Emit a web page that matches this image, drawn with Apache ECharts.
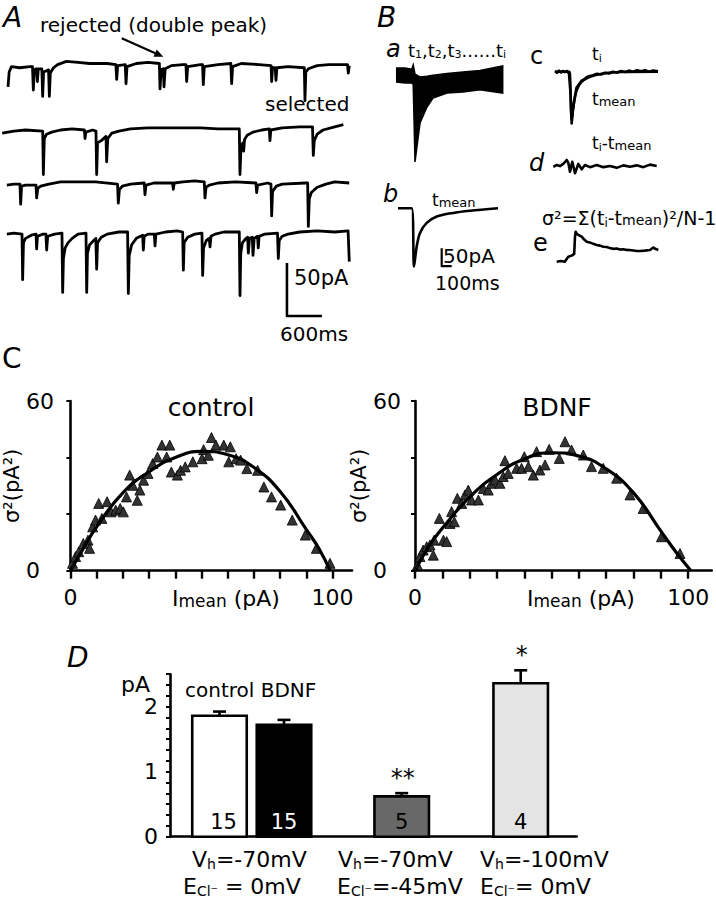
<!DOCTYPE html>
<html>
<head>
<meta charset="utf-8">
<script src="https://cdn.jsdelivr.net/npm/echarts@6/dist/echarts.min.js"></script>
<style>
html,body{margin:0;padding:0;background:#fff;}
#chart{width:716px;height:899px;}
</style>
</head>
<body>
<div id="chart"></div>
<script>
// ---------------- DATA ----------------
// Panel A: four continuous recordings, [time (ms), current (pA)]
const traceA1 = [[0,-22],[20,-8],[60,-3],[200,-4],[380,-3],[420,-3],[434,-25],[450,-6],[490,-5],[503,-17],[520,-5],[580,-5],[594,-31],[610,-8],[695,-6],[709,-31],[725,-9],[780,-4],[850,-1],[1000,2],[1200,1],[1400,0],[1700,0],[1850,-1],[1863,-15],[1880,-2],[2010,-1],[2023,-19],[2040,-3],[2200,0],[2400,1],[2595,0],[2606,-24],[2625,-6],[2662,-5],[2674,-22],[2695,-5],[2800,-2],[3000,-1],[3050,-1],[3063,-17],[3080,-3],[3300,-1],[3335,-1],[3348,-20],[3365,-3],[3600,-1],[3820,0],[3834,-19],[3850,-3],[4000,0],[4300,-1],[4510,-2],[4520,-17],[4535,-4],[4580,-4],[4594,-16],[4610,-4],[4800,-3],[5080,-4],[5091,-35],[5105,-8],[5150,-5],[5300,-2],[5500,-1],[5820,-1],[5834,-9],[5850,-2]];
const traceA2 = [[-100,-3],[100,-1],[300,0],[595,-1],[606,-42],[622,-8],[660,-4],[750,-2],[900,0],[1100,1],[1310,0],[1320,-8],[1335,-2],[1450,0],[1508,-1],[1520,-42],[1535,-12],[1600,-10],[1680,-6],[1691,-30],[1710,-8],[1780,-3],[1900,-1],[2100,1],[2400,2],[2700,2],[3000,2],[3300,2],[3600,1],[3965,1],[3977,-42],[3995,-15],[4030,-12],[4040,-20],[4055,-9],[4100,-5],[4200,-2],[4350,0],[4480,1],[4491,-10],[4505,0],[4700,2],[5000,3],[5220,3],[5234,-24],[5250,-10],[5300,-4],[5400,0],[5600,3],[5749,5]];
const traceA3 = [[-20,-2],[100,-1],[205,-1],[217,-20],[232,-3],[300,-2],[480,-2],[491,-14],[510,-5],[560,-3],[700,-1],[900,1],[1200,1],[1500,1],[1878,-1],[1891,-19],[1910,-6],[1960,-3],[2100,-1],[2335,0],[2348,-11],[2365,-2],[2500,0],[2820,0],[2834,-6],[2850,0],[3000,1],[3200,2],[3365,1],[3377,-14],[3395,-4],[3450,-2],[3600,0],[3900,1],[4250,0],[4263,-9],[4280,-2],[4450,0],[4508,-1],[4520,-31],[4535,-8],[4600,-3],[4700,-1],[5100,0],[5137,0],[5149,-41],[5165,-15],[5200,-9],[5300,-4],[5450,-1],[5600,1],[5850,0]];
const traceA4 = [[-20,-2],[100,-1],[240,-2],[251,-45],[265,-10],[300,-6],[400,-3],[480,-2],[491,-16],[505,-4],[600,-2],[650,-2],[663,-17],[680,-4],[800,-2],[925,-1],[937,-57],[950,-25],[980,-15],[1030,-10],[1100,-6],[1200,-2],[1337,-1],[1349,-57],[1362,-20],[1400,-12],[1505,-6],[1520,-35],[1535,-10],[1600,-5],[1700,-2],[1900,0],[2050,0],[2063,-58],[2078,-22],[2120,-12],[2200,-6],[2308,-3],[2320,-17],[2335,-4],[2400,-2],[2508,-2],[2520,-13],[2535,-2],[2700,0],[2900,1],[2994,0],[3006,-36],[3020,-10],[3080,-5],[3200,-2],[3325,-1],[3337,-41],[3352,-15],[3400,-8],[3450,-6],[3463,-14],[3480,-4],[3550,-2],[3700,0],[3965,0],[3977,-60],[3990,-20],[4020,-10],[4080,-6],[4108,-5],[4120,-20],[4140,-6],[4188,-5],[4200,-22],[4220,-6],[4278,-4],[4290,-15],[4305,-4],[4400,-2],[4620,-1],[4634,-25],[4650,-8],[4700,-4],[4800,-2],[5000,0],[5300,1],[5600,0],[5830,1],[5851,-28]];

// Panel B: single events, [time (ms), current (pA)]
const overlayUpper = [[0,11],[83,11],[150,8],[165,20],[183,-6],[233,-14],[303,-12],[363,-9],[503,-4],[663,0],[833,4],[1060,17]];
const overlayLower = [[0,-28],[83,-31],[150,-31],[165,-35],[183,-252],[233,-143],[303,-98],[363,-73],[503,-59],[663,-56],[833,-50],[1060,-59]];
const meanTrace = [[0,0],[137,0],[160,-163],[187,-107],[220,-69],[287,-41],[387,-23],[550,-13],[720,-7],[1000,0]];
const singleTrace = [[0,2],[20,-3],[40,3],[60,-2],[80,2],[100,-1],[120,2],[140,-6],[155,-60],[167,-145],[178,-110],[195,-75],[215,-45],[240,-35],[265,-25],[290,-22],[320,-15],[350,-12],[380,-10],[420,-6],[460,-8],[500,-3],[540,-5],[580,0],[620,-3],[660,2],[700,-1],[740,3],[780,0],[820,4],[860,1],[900,4],[940,0],[980,3],[1030,1]];
const meanTraceC = [[0,0],[140,0],[150,-10],[167,-135],[185,-95],[217,-52],[267,-28],[350,-14],[480,-5],[650,-1],[1030,0]];
const diffTrace = [[0,-5],[34,0],[67,-3],[100,3],[134,14],[150,6],[167,-19],[190,9],[217,-23],[250,3],[284,-12],[317,0],[367,-6],[434,0],[500,-6],[567,-3],[634,-8],[700,-1],[767,-5],[834,-1],[900,-6],[967,1],[1034,-3]];
const varTrace = [[0,0],[40,2],[80,0],[116,14],[150,17],[175,22],[183,70],[190,84],[200,78],[225,74],[250,70],[275,62],[300,56],[330,54],[366,50],[400,47],[433,45],[466,42],[500,41],[533,38],[566,36],[600,37],[633,34],[666,35],[700,33],[750,32],[800,30],[833,30],[880,31],[933,33],[966,40],[985,36],[1016,33]];

// Panel C: variance vs mean current
const controlPts = [[0.8,2.6],[2,5],[3.2,6.7],[4.9,9.6],[6.7,10.8],[7.3,7.9],[8.5,15.5],[9.6,17.9],[10.8,23.8],[12,18.5],[14,24.4],[15.5,20.8],[17.3,21.4],[19,22],[20.2,20.8],[21.4,26.1],[22.6,33.8],[23.8,30.2],[25.5,24.9],[26.5,28.5],[27.9,32],[29.6,34.4],[31.4,37.9],[33.2,40.2],[34.9,44.4],[36.7,40.2],[37.9,44.4],[38.5,34.9],[40.8,33.8],[42,35.5],[43.8,36.7],[46.7,38.5],[50.2,39.6],[50.8,42.8],[52.6,40.8],[53.8,47.1],[55.5,44.4],[58.5,44.4],[61,43.8],[60.4,38.5],[63.2,39.6],[64.9,39.1],[67.3,36.1],[71.4,35.5],[73.8,29.6],[76.7,26.1],[80.2,23.2],[84.6,17.9],[89.6,12.6],[93.8,7.9],[99,2.6]];
const controlFit = [[0,0],[5,8],[10,15.5],[20,27.5],[30,35],[40,40],[50,42.2],[60,41],[70,36.5],[80,28],[90,14.5],[95,7.5],[99,0]];
const bdnfPts = [[0.9,2],[1.8,5],[3,7.3],[4.3,8.5],[5.5,9.1],[6.7,5.5],[7,10.8],[8.9,18.5],[10.4,10.8],[11.6,10.3],[12.8,16.7],[13.4,20.9],[14.4,17.3],[15.5,25.6],[17.1,23.8],[18.3,26.8],[19.5,28.5],[20.7,25],[23.2,25],[25,29.1],[26.8,28.5],[28,30.9],[29.3,32.1],[31.1,30.9],[32.3,33.3],[34.1,34.4],[32.9,38.9],[37.2,36.2],[39,36.2],[40,40.3],[41.5,36.8],[43.3,33.8],[45.7,35.6],[47.6,37.4],[44.5,42.1],[49.1,42.9],[52.8,39.7],[54.9,45.6],[57.3,42.7],[61.6,40.9],[64.6,36.8],[68.9,36.2],[73.8,32.7],[78.7,26.8],[83.5,22],[90.2,12],[97,6.1]];
const bdnfFit = [[0,0],[5,8.5],[10,15],[20,26],[30,34],[40,39.5],[50,41.7],[60,40.5],[70,36],[80,27.5],[90,14],[96,6],[101,0]];

// Panel D: single-channel current
const conditions = ['control', 'BDNF', 'Vh -70 / ECl -45', 'Vh -100 / ECl 0'];
const meanPA = [1.86, 1.72, 0.62, 2.36];
const semPA = [0.065, 0.077, 0.05, 0.2];
const nCells = [15, 15, 5, 4];
const sigMarks = ['', '', '**', '*'];

// ---------------- LAYOUT / STYLE ----------------
const FONT = 'DejaVu Sans';
const barSlot = [12.17, 28.03, 56.97, 86.23];       // position along the D x-axis (0-100)
const barFill = ['#ffffff', '#000000', '#686868', '#e4e4e4'];
const nColor = ['#000', '#fff', '#000', '#000'];

const grids = [], xAxes = [], yAxes = [], series = [];
function addGrid(g, xa, ya) {
  grids.push(g);
  const i = grids.length - 1;
  xAxes.push(Object.assign({gridIndex: i}, xa));
  yAxes.push(Object.assign({gridIndex: i}, ya));
  return i;
}
const hid = (min, max) => ({type: 'value', min, max, show: false, scale: true});
function lineSeries(gi, data, width, extra) {
  return Object.assign({type: 'line', xAxisIndex: gi, yAxisIndex: gi, data, showSymbol: false, symbol: 'none',
    lineStyle: {color: '#000', width: width, join: 'round'}, silent: true, animation: false, z: 3}, extra || {});
}

// Panel A grids: 17.14 ms/px, 1.06 px/pA
const aBase = [63.5, 130, 183, 232];
const aTraces = [traceA1, traceA2, traceA3, traceA4];
const aGrid = [];
aBase.forEach((b, k) => {
  const gi = addGrid({left: 2, top: b - 25 * 1.06, width: 348, height: 115 * 1.06}, hid(-103, 5863), hid(-90, 25));
  aGrid.push(gi);
  series.push(lineSeries(gi, aTraces[k], 2.8));
});
// scale bar A (50 pA, 600 ms)
const scaleA = {pA: 50, ms: 600}, anchorA = [4782, -29.2];
series.push(lineSeries(aGrid[3], [[anchorA[0], anchorA[1]], [anchorA[0], anchorA[1] - scaleA.pA], [anchorA[0] + scaleA.ms, anchorA[1] - scaleA.pA]], 2.6));

// Panel B grids: 10 ms/px, 2.8 pA/px
const PX_MS = 10, PX_PA = 2.8;
function bGrid(left, baseY, tMax, vMin, vMax) {
  return addGrid({left, top: baseY - vMax / PX_PA, width: tMax / PX_MS, height: (vMax - vMin) / PX_PA}, hid(0, tMax), hid(vMin, vMax));
}
const gA = bGrid(396.7, 72, 1060, -260, 25);
series.push({type: 'custom', coordinateSystem: 'cartesian2d', xAxisIndex: gA, yAxisIndex: gA, data: [[0, 0]], silent: true, animation: false,
  renderItem: (p, api) => {
    const pts = overlayUpper.map(q => api.coord(q)).concat(overlayLower.slice().reverse().map(q => api.coord(q)));
    return {type: 'polygon', shape: {points: pts}, style: {fill: '#000', stroke: '#000', lineWidth: 1.5}};
  }});
const gB = bGrid(398, 208.3, 1000, -170, 10);
series.push(lineSeries(gB, meanTrace, 2.6, {smooth: 0.3}));
const scaleB = {pA: 50, ms: 100}, anchorB = [437, -112];
series.push(lineSeries(gB, [[anchorB[0], anchorB[1]], [anchorB[0], anchorB[1] - scaleB.pA], [anchorB[0] + scaleB.ms, anchorB[1] - scaleB.pA]], 2.2));
const gC = bGrid(555, 71.7, 1030, -150, 10);
series.push(lineSeries(gC, singleTrace, 2.6));
series.push(lineSeries(gC, meanTraceC, 2.6, {smooth: 0.3}));
const gD = bGrid(553.3, 165, 1034, -30, 20);
series.push(lineSeries(gD, diffTrace, 2.6));
const gE = bGrid(556.7, 261.7, 1016, -10, 95);
series.push(lineSeries(gE, varTrace, 2.6));

// Panel C grids
const labelEnds = (v) => (v === 0 || v === 100) ? String(v) : '';
function cAxes(left, width, xMax, labelMargin, nameGap) {
  return addGrid({left, top: 401, width, height: 169.7},
    {type: 'value', min: 0, max: xMax, interval: 10,
      axisLine: {lineStyle: {color: '#000', width: 2.6}},
      axisTick: {show: true, length: 8, lineStyle: {color: '#000', width: 2.4}},
      axisLabel: {formatter: labelEnds, color: '#000', fontSize: 22, fontFamily: FONT, margin: 16, showMaxLabel: false},
      splitLine: {show: false}},
    {type: 'value', min: 0, max: 60, interval: 20,
      axisLine: {show: true, lineStyle: {color: '#000', width: 2.6}},
      axisTick: {show: true, length: 4, lineStyle: {color: '#000', width: 2}},
      axisLabel: {formatter: v => (v === 0 || v === 60) ? String(v) : '', color: '#000', fontSize: 22, fontFamily: FONT, margin: labelMargin, align: 'left'},
      splitLine: {show: false},
      name: 'σ²(pA²)', nameLocation: 'middle', nameRotate: 90, nameGap,
      nameTextStyle: {color: '#000', fontSize: 21, fontFamily: FONT}});
}
const gCtl = cAxes(47.7, 304.3, 107.4, 44.5, 37);
const gBd = cAxes(415, 296.7, 108.6, 42, 30);
const triStyle = {color: '#333333', borderColor: '#000', borderWidth: 0.8, opacity: 1};
series.push({type: 'scatter', xAxisIndex: gCtl, yAxisIndex: gCtl, data: controlPts, symbol: 'triangle', symbolSize: 10, itemStyle: triStyle, silent: true, animation: false, z: 4});
series.push(lineSeries(gCtl, controlFit, 3.2, {smooth: true, z: 5}));
series.push({type: 'scatter', xAxisIndex: gBd, yAxisIndex: gBd, data: bdnfPts, symbol: 'triangle', symbolSize: 10, itemStyle: triStyle, silent: true, animation: false, z: 4});
series.push(lineSeries(gBd, bdnfFit, 3.2, {smooth: true, z: 5}));

// Panel D grid
const gBar = addGrid({left: 170, top: 674.2, width: 406.7, height: 162.5},
  {type: 'value', min: 0, max: 100, axisLine: {show: true, lineStyle: {color: '#000', width: 2.6}},
    axisTick: {show: false}, axisLabel: {show: false}, splitLine: {show: false}},
  {type: 'value', min: 0, max: 2.5, interval: 1 / 6,
    axisLine: {show: true, lineStyle: {color: '#000', width: 2.6}},
    axisTick: {show: true, length: 4, lineStyle: {color: '#000', width: 2}},
    axisLabel: {formatter: v => Math.abs(v - Math.round(v)) < 1e-6 ? String(Math.round(v)) : '', color: '#000', fontSize: 22, fontFamily: FONT, margin: 12, showMaxLabel: false},
    splitLine: {show: false}});
series.push({type: 'custom', coordinateSystem: 'cartesian2d', xAxisIndex: gBar, yAxisIndex: gBar, silent: true, animation: false, z: 4,
  data: meanPA.map((m, i) => [barSlot[i], m, semPA[i]]),
  encode: {x: 0, y: 1},
  renderItem: (p, api) => {
    const i = p.dataIndex;
    const x = api.value(0), m = api.value(1), s = api.value(2);
    const base = api.coord([x, 0]), top = api.coord([x, m]), eTop = api.coord([x, m + s]);
    const w = 54.5;
    const ch = [
      {type: 'line', shape: {x1: top[0], y1: top[1], x2: eTop[0], y2: eTop[1]}, style: {stroke: '#000', lineWidth: 2.6}},
      {type: 'line', shape: {x1: top[0] - 6.5, y1: eTop[1], x2: top[0] + 6.5, y2: eTop[1]}, style: {stroke: '#000', lineWidth: 2.6}},
      {type: 'rect', shape: {x: base[0] - w / 2, y: top[1], width: w, height: base[1] - top[1]}, style: {fill: barFill[i], stroke: '#000', lineWidth: 2.6}},
      {type: 'text', x: base[0] + (i === 0 ? 4 : 0), y: base[1] - 15, style: {text: String(nCells[i]), fill: nColor[i], fontSize: 21, fontFamily: FONT, align: 'center', verticalAlign: 'middle', textAlign: 'center', textVerticalAlign: 'middle'}}
    ];
    if (sigMarks[i]) ch.push({type: 'text', x: eTop[0] + 1, y: eTop[1] - 3, style: {text: sigMarks[i], fill: '#000', fontSize: 24, fontFamily: FONT, align: 'center', verticalAlign: 'bottom', textAlign: 'center', textVerticalAlign: 'bottom'}});
    return {type: 'group', children: ch};
  }});

// ---------------- TEXT ----------------
function richSet(size) {
  const s = Math.round(size * 0.62), m = Math.round(size * 0.76);
  return {
    n: {fontSize: size, fontFamily: FONT, lineHeight: size},
    s: {fontSize: s, fontFamily: FONT, lineHeight: s, padding: [Math.round(size * 0.45), 0, 0, 0]},
    m: {fontSize: m, fontFamily: FONT, lineHeight: m, padding: [Math.round(size * 0.22), 0, 0, 0]}
  };
}
function T(x, y, text, size, opt) {
  opt = opt || {};
  const st = {text, fill: '#000', fontSize: size, fontFamily: FONT, fontStyle: opt.italic ? 'italic' : 'normal',
    align: opt.align || 'left', textAlign: opt.align || 'left', verticalAlign: 'middle', textVerticalAlign: 'middle'};
  if (opt.rich) st.rich = richSet(size);
  return {type: 'text', x, y, z: 10, style: st};
}
const graphics = [
  // Panel A
  T(3, 17, 'A', 28, {italic: true}),
  T(40, 25, 'rejected (double peak)', 20),
  {type: 'line', shape: {x1: 121.7, y1: 38.3, x2: 157, y2: 53.9}, style: {stroke: '#000', lineWidth: 2.2}},
  {type: 'polygon', shape: {points: [[163.3, 56.7], [153.5, 56.8], [156.7, 49.4]]}, style: {fill: '#000'}},
  T(265, 104, 'selected', 20),
  T(294, 278, '50pA', 21),
  T(280, 334, '600ms', 20),
  // Panel B
  T(377, 17, 'B', 28, {italic: true}),
  T(386, 49, 'a', 24, {italic: true}),
  T(408, 50, '{n|t}{s|1}{n|,t}{s|2}{n|,t}{s|3}{n|......t}{s|i}', 18, {rich: true}),
  T(383, 194, 'b', 24, {italic: true}),
  T(432, 200, '{n|t}{m|mean}', 17, {rich: true}),
  T(443, 256, '50pA', 20),
  T(435, 283, '100ms', 19),
  T(530, 56, 'c', 24),
  T(592, 54, '{n|t}{s|i}', 17, {rich: true}),
  T(592, 99, '{n|t}{m|mean}', 17, {rich: true}),
  T(529, 163, 'd', 24, {italic: true}),
  T(592, 143, '{n|t}{s|i}{n|-t}{m|mean}', 17, {rich: true}),
  T(542, 218, '{n|σ²=Σ(t}{s|i}{n|-t}{m|mean}{n|)²/N-1}', 19, {rich: true}),
  T(533, 243, 'e', 24),
  // Panel C
  T(2, 358, 'C', 28),
  T(211, 407, 'control', 25, {align: 'center'}),
  T(557, 407, 'BDNF', 25, {align: 'center'}),
  T(172, 598, '{n|I}{m|mean}{n| (pA)}', 22, {rich: true}),
  T(527, 598, '{n|I}{m|mean}{n| (pA)}', 22, {rich: true}),
  // Panel D
  T(67, 657, 'D', 28, {italic: true}),
  T(121, 684, 'pA', 22),
  T(185, 690, 'control BDNF', 20),
  T(192, 859, '{n|V}{s|h}{n|=-70mV}', 22, {rich: true}),
  T(183, 886, '{n|E}{s|Cl⁻}{n| = 0mV}', 22, {rich: true}),
  T(338, 859, '{n|V}{s|h}{n|=-70mV}', 22, {rich: true}),
  T(337, 886, '{n|E}{s|Cl⁻}{n|=-45mV}', 22, {rich: true}),
  T(480, 859, '{n|V}{s|h}{n|=-100mV}', 22, {rich: true}),
  T(480, 886, '{n|E}{s|Cl⁻}{n|= 0mV}', 22, {rich: true})
];

const chart = echarts.init(document.getElementById('chart'), null, {renderer: 'svg', width: 716, height: 899});
chart.setOption({
  backgroundColor: '#fff',
  animation: false,
  grid: grids,
  xAxis: xAxes,
  yAxis: yAxes,
  series: series,
  graphic: graphics
});
</script>
</body>
</html>
